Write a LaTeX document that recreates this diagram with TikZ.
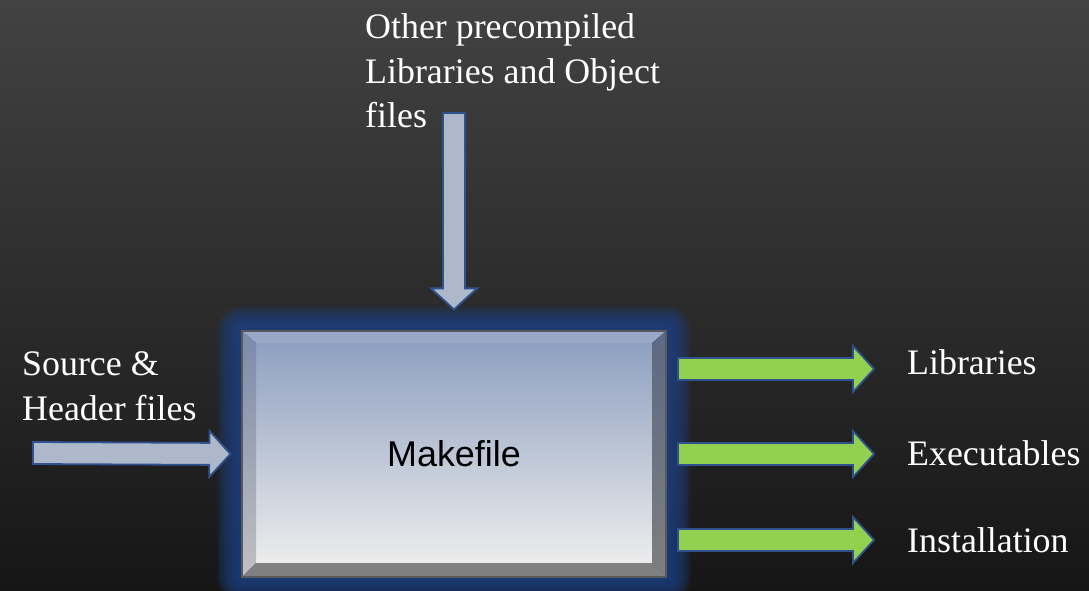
\documentclass[tikz,border=0pt]{standalone}
\usepackage{fontspec}
\setmainfont{Liberation Serif}
\newfontfamily\mkfont{Liberation Sans}
\usetikzlibrary{calc,positioning,backgrounds}
\definecolor{bgtop}{RGB}{66,66,66}
\definecolor{bgbot}{RGB}{22,22,22}
\definecolor{glowblue}{RGB}{30,64,128}
\definecolor{facetop}{RGB}{142,160,192}
\definecolor{facebot}{RGB}{236,236,236}
\definecolor{bevtop}{RGB}{152,168,198}
\definecolor{bevlefta}{RGB}{122,138,170}
\definecolor{bevleftb}{RGB}{192,192,192}
\definecolor{bevrighta}{RGB}{92,105,132}
\definecolor{bevrightb}{RGB}{126,126,126}
\definecolor{bevbot}{RGB}{128,128,128}
\definecolor{inarrow}{RGB}{173,185,202}
\definecolor{outarrow}{RGB}{146,208,80}
\definecolor{arrowrim}{RGB}{47,82,143}

% block arrow: style, tail, tip
\newcommand\fatarrow[3]{%
  \draw[#1] ($(#2)!11bp!90:(#3)$) -- ($(#3)!21bp!(#2)!11bp!-90:(#2)$)
    -- ($(#3)!21bp!(#2)!23bp!-90:(#2)$) -- (#3)
    -- ($(#3)!21bp!(#2)!23bp!90:(#2)$) -- ($(#3)!21bp!(#2)!11bp!90:(#2)$)
    -- ($(#2)!11bp!-90:(#3)$) -- cycle;}

\begin{document}
\begin{tikzpicture}[x=1bp,y=-1bp,inner sep=0pt]
\tikzstyle{txt}=[text=white, font=\fontsize{36}{45}\selectfont, align=left]
\tikzstyle{inflow}=[fill=inarrow, draw=arrowrim, line width=1.8bp, line join=miter]
\tikzstyle{outflow}=[fill=outarrow, draw=arrowrim, line width=1.8bp, line join=miter]
\tikzstyle{bevel}=[path picture={
  \coordinate (nw) at (path picture bounding box.north west);
  \coordinate (ne) at (path picture bounding box.north east);
  \coordinate (se) at (path picture bounding box.south east);
  \coordinate (sw) at (path picture bounding box.south west);
  \coordinate (inw) at ($(nw)+(14bp,-12bp)$);
  \coordinate (ine) at ($(ne)+(-14bp,-12bp)$);
  \coordinate (ise) at ($(se)+(-14bp,14bp)$);
  \coordinate (isw) at ($(sw)+(14bp,14bp)$);
  \shade[top color=facetop, bottom color=facebot] (inw) rectangle (ise);
  \fill[bevtop] (nw) -- (ne) -- (ine) -- (inw) -- cycle;
  \shade[top color=bevlefta, bottom color=bevleftb] (nw) -- (inw) -- (isw) -- (sw) -- cycle;
  \shade[top color=bevrighta, bottom color=bevrightb] (ne) -- (se) -- (ise) -- (ine) -- cycle;
  \fill[bevbot] (sw) -- (isw) -- (ise) -- (se) -- cycle;
  }]
\tikzstyle{main}=[rectangle, bevel, draw=black!65, line width=1.2bp, minimum width=424bp,
  minimum height=246bp, font=\mkfont\fontsize{36}{40}\selectfont]
\useasboundingbox (0,0) rectangle (1089,591);

\node[main] (make) at (454,454) {Makefile};

\begin{scope}[on background layer]
\shade[top color=bgtop, bottom color=bgbot] (0,0) rectangle (1089,591);
\foreach \g in {2,4,...,24}
  \fill[glowblue, opacity=0.16, rounded corners=\g bp]
    ([shift={(-\g bp,\g bp)}]make.north west) rectangle ([shift={(\g bp,-\g bp)}]make.south east);
\end{scope}

% labels (base = last line)
\node[txt, anchor=base west] (other) at (365,128) {Other precompiled\\Libraries and Object\\files};
\node[txt, anchor=base west] (srchdr) at (22,420) {Source \&\\Header files};
\node[txt, anchor=base west] (lib) at (907,374) {Libraries};
\node[txt, anchor=base west] (exe) at (907,465) {Executables};
\node[txt, anchor=base west] (inst) at (907,552) {Installation};

% arrows in
\coordinate (othertail) at (454,113);
\coordinate (othertip) at ([yshift=21bp]make.north);
\coordinate (srctail) at (33,453);
\coordinate (srctip) at ([xshift=-11bp]make.west);
\fatarrow{inflow}{othertail}{othertip}
\fatarrow{inflow}{srctail}{srctip}

% arrows out
\coordinate (libtail) at (678,369);
\coordinate (libtip) at (874,369);
\coordinate (exetail) at (678,454);
\coordinate (exetip) at (874,454);
\coordinate (insttail) at (678,540);
\coordinate (insttip) at (874,540);
\fatarrow{outflow}{libtail}{libtip}
\fatarrow{outflow}{exetail}{exetip}
\fatarrow{outflow}{insttail}{insttip}
\end{tikzpicture}
\end{document}
